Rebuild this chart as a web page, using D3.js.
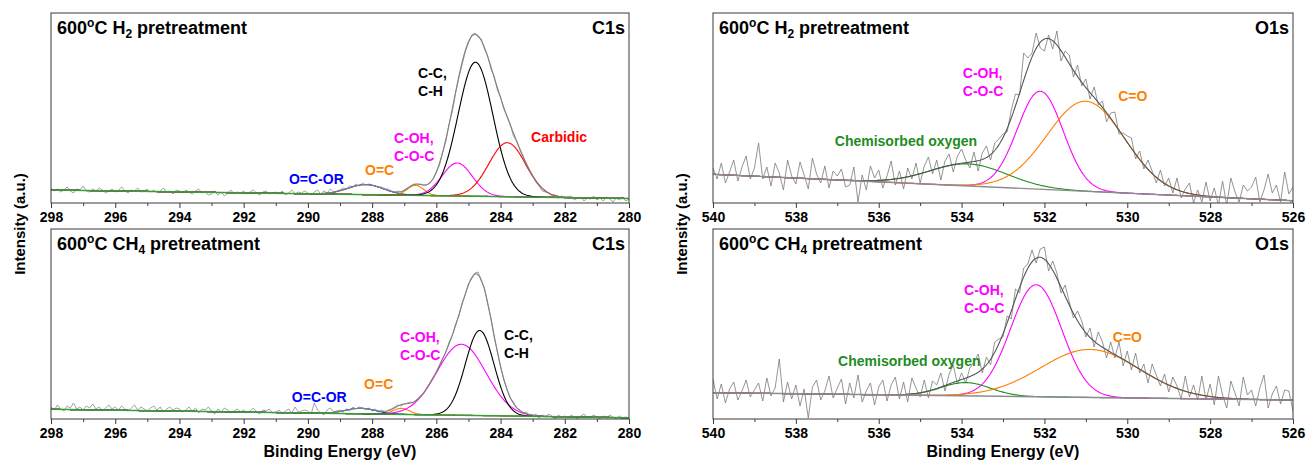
<!DOCTYPE html>
<html>
<head>
<meta charset="utf-8">
<script src="https://cdn.jsdelivr.net/npm/d3@7"></script>
<style>
  body { margin: 0; background: #fff; }
  svg text { font-family: "Liberation Sans", Arial, sans-serif; font-weight: bold; }
</style>
</head>
<body>
<div id="chart"></div>
<script>
// tick labels
const c1sTicks = [298, 296, 294, 292, 290, 288, 286, 284, 282, 280];
const o1sTicks = [540, 538, 536, 534, 532, 530, 528, 526];

// raw spectra, 0.1 eV steps from high to low binding energy
const c1sH2Raw = [
  15,12,14,11,13,16,12,10,14,13, 17,12,11,14,12,15,13,10,12,14,
  11,13,16,12,10,13,12,15,11,12, 14,11,13,10,12,15,11,12,9,13,
  12,10,13,11,9,12,14,10,11,8, 9,12,8,11,7,10,13,9,11,10,
  12,9,11,13,10,8,11,12,9,10, 11,9,12,8,10,13,9,11,10,12,
  10,8,11,13,9,12,10,14,11,12, 13,15,14,17,16,19,17,20,18,19,
  18,17,16,16,14,14,12,11,12,11, 13,15,16,19,18,19,18,18,20,24,
  31,38,51,62,79,92,110,125,138,151, 160,168,170,166,164,154,147,134,127,113,
  106,94,87,79,67,62,53,46,37,32, 27,21,17,12,11,10,7,8,5,7,
  4,6,7,3,5,6,2,5,4,7, 3,5,2,6,4,1,5,3,6,2,
  4
];
const c1sCH4Raw = [
  12,9,14,10,8,13,11,16,10,12, 9,13,11,15,10,12,8,11,14,10,
  12,9,13,10,8,11,14,9,12,10, 8,11,13,9,12,7,10,12,9,11,
  10,7,9,12,8,11,6,10,9,12, 8,5,10,7,11,9,6,8,10,7,
  9,6,8,11,7,5,9,8,10,6, 7,9,5,8,10,6,12,7,8,9,
  8,5,16,9,6,4,9,11,7,8, 9,7,10,8,12,10,12,11,9,11,
  8,10,7,9,6,9,10,12,14,13, 15,16,17,16,20,23,25,31,36,42,
  46,54,61,67,77,84,95,103,116,124, 135,140,146,147,138,131,115,101,82,68,
  53,40,30,21,17,11,9,6,7,4, 3,5,1,4,2,5,3,0,4,2,
  3,1,4,2,0,3,5,1,2,4, 2,0,3,1,4,2,0,3,1,2,
  1
];
const o1sH2Raw = [
  35,24,40,20,31,43,22,36,47,24, 35,60,24,36,17,40,30,13,43,27,
  19,41,28,14,45,29,20,37,15,32, 27,34,16,18,36,1,28,13,37,25,
  33,15,27,42,18,32,14,35,24,40, 20,37,46,29,43,23,42,49,31,47,
  54,43,35,51,32,50,57,43,60,64, 69,71,93,109,108,150,145,150,170,155,
  152,168,154,172,142,152,148,126,138,117, 124,104,116,98,102,81,90,91,69,70,
  67,65,44,52,34,43,32,20,33,17, 25,10,25,5,14,20,0,13,1,21,
  2,15,-2,22,-2,25,11,1,18,12, 16,26,1,13,29,10,18,1,31,9,
  16
];
const o1sCH4Raw = [
  40,20,35,16,30,37,19,28,39,22, 29,36,18,41,23,31,60,17,37,20,
  34,13,30,1,32,39,19,28,43,21, 31,40,15,36,21,44,17,28,36,14,
  32,39,18,34,42,20,37,17,41,31, 22,39,21,38,34,46,28,45,54,35,
  46,36,51,57,65,46,62,54,77,80, 82,103,100,130,126,151,155,169,156,170,
  172,148,158,146,126,134,117,101,108,98, 82,91,72,87,77,61,77,61,77,53,
  68,49,66,46,55,36,55,44,33,45, 27,42,33,20,43,22,34,19,43,19,
  35,14,43,24,11,38,26,13,42,24, 29,13,31,44,11,25,33,15,29,28,
  8
];

// fitted peaks: [centre eV, height, FWHM eV]
const c1sPeakNames = ["O=C-OR", "O=C", "C-OH, C-O-C", "C-C, C-H", "Carbidic"];
const c1sH2Peaks = [[288.2, 10, 1.3], [286.65, 10, 0.6], [285.35, 33, 1.1], [284.78, 134, 1.28], [283.79, 54, 1.35]];
const c1sCH4Peaks = [[288.35, 5.5, 1.1], [287.09, 6, 0.6], [285.22, 71, 1.8], [284.65, 85, 1.05]];
const o1sPeakNames = ["Chemisorbed oxygen", "C-OH, C-O-C", "C=O"];
const o1sH2Peaks = [[533.83, 22, 2.2], [532.1, 98, 1.3], [531.0, 90, 2.2]];
const o1sCH4Peaks = [[533.9, 13.3, 1.4], [532.2, 112, 1.45], [530.9, 48, 2.8]];

// linear background, intensity at the high and low energy ends
const c1sH2Background = [13, 4.5];
const c1sCH4Background = [9.7, 1.3];
const o1sH2Background = [28.7, 2.3];
const o1sCH4Background = [26.3, 19.0];

const w = 1306;
const h = 460;
const svg = d3.select("#chart").append("svg").attr("width", w).attr("height", h);

const c1sColors = ["#2030d8", "#ff7f00", "#ff00ff", "#000000", "#ff0000"];
const o1sColors = ["#1e8c1e", "#ff00ff", "#ff7f00"];

const panels = [
  {
    id: "a", x0: 51, x1: 629, y0: 13, y1: 203, range: [298, 280], ticks: c1sTicks,
    raw: c1sH2Raw, peaks: c1sH2Peaks, bg: c1sH2Background, colors: c1sColors,
    bgColor: "#35a035", envColor: "#808080", rawColor: "#8a8a8a", gas: "H", sub: "2", core: "C1s",
    labels: [
      { lines: ["O=C-OR"], e: 290.59, i: 19, color: "#0000ff" },
      { lines: ["O=C"], e: 288.22, i: 28, color: "#ff7f00" },
      { lines: ["C-OH,", "C-O-C"], e: 287.32, i: 60, color: "#ff00ff" },
      { lines: ["C-C,", "C-H"], e: 286.57, i: 125, color: "#000000" },
      { lines: ["Carbidic"], e: 283.05, i: 61, color: "#ff0000" }
    ]
  },
  {
    id: "b", x0: 51, x1: 629, y0: 229, y1: 419, range: [298, 280], ticks: c1sTicks,
    raw: c1sCH4Raw, peaks: c1sCH4Peaks, bg: c1sCH4Background, colors: c1sColors,
    bgColor: "#35a035", envColor: "#808080", rawColor: "#8a8a8a", gas: "CH", sub: "4", core: "C1s",
    labels: [
      { lines: ["O=C-OR"], e: 290.5, i: 17, color: "#0000ff" },
      { lines: ["O=C"], e: 288.25, i: 30, color: "#ff7f00" },
      { lines: ["C-OH,", "C-O-C"], e: 287.13, i: 77, color: "#ff00ff" },
      { lines: ["C-C,", "C-H"], e: 283.89, i: 79, color: "#000000" }
    ]
  },
  {
    id: "c", x0: 713, x1: 1293, y0: 13, y1: 203, range: [540, 526], ticks: o1sTicks,
    raw: o1sH2Raw, peaks: o1sH2Peaks, bg: o1sH2Background, colors: o1sColors,
    bgColor: "#8c8c8c", envColor: "#555555", rawColor: "#7a7a7a", gas: "H", sub: "2", core: "O1s",
    labels: [
      { lines: ["Chemisorbed oxygen"], e: 537.06, i: 57, color: "#1e8c1e" },
      { lines: ["C-OH,", "C-O-C"], e: 533.97, i: 125, color: "#ff00ff" },
      { lines: ["C=O"], e: 530.22, i: 102, color: "#ff7f00" }
    ]
  },
  {
    id: "d", x0: 713, x1: 1293, y0: 229, y1: 419, range: [540, 526], ticks: o1sTicks,
    raw: o1sCH4Raw, peaks: o1sCH4Peaks, bg: o1sCH4Background, colors: o1sColors,
    bgColor: "#8c8c8c", envColor: "#555555", rawColor: "#7a7a7a", gas: "CH", sub: "4", core: "O1s",
    labels: [
      { lines: ["Chemisorbed oxygen"], e: 536.98, i: 53, color: "#1e8c1e" },
      { lines: ["C-OH,", "C-O-C"], e: 533.94, i: 124, color: "#ff00ff" },
      { lines: ["C=O"], e: 530.35, i: 77, color: "#ff7f00" }
    ]
  }
];

function gauss(e, pk) {
  const s = pk[2] / 2.3548;
  return pk[1] * Math.exp(-((e - pk[0]) ** 2) / (2 * s * s));
}

function drawPanel(p) {
  const x = d3.scaleLinear().domain(p.range).range([p.x0, p.x1]);
  const y = d3.scaleLinear().domain([0, 190]).range([p.y1, p.y0]);
  const line = d3.line().x((d) => x(d[0])).y((d) => y(d[1]));

  svg.append("clipPath").attr("id", "clip-" + p.id)
    .append("rect").attr("x", p.x0).attr("y", p.y0)
    .attr("width", p.x1 - p.x0).attr("height", p.y1 - p.y0);
  const plot = svg.append("g").attr("clip-path", "url(#clip-" + p.id + ")");

  const span = p.range[0] - p.range[1];
  const bgAt = (e) => p.bg[0] + (p.bg[1] - p.bg[0]) * (p.range[0] - e) / span;
  const grid = d3.range(0, Math.round(span / 0.02) + 1).map((i) => p.range[0] - i * 0.02);

  // raw data
  const rawPts = p.raw.map((v, i) => [p.range[0] - i * 0.1, v]);
  plot.append("path").attr("d", line(rawPts))
    .attr("fill", "none").attr("stroke", p.rawColor).attr("stroke-width", 0.8);

  // components
  p.peaks.forEach((pk, k) => {
    const pts = grid.map((e) => [e, bgAt(e) + gauss(e, pk)]);
    plot.append("path").attr("d", line(pts))
      .attr("fill", "none").attr("stroke", p.colors[k]).attr("stroke-width", 1.1);
  });

  // envelope
  const env = grid.map((e) => [e, bgAt(e) + d3.sum(p.peaks, (pk) => gauss(e, pk))]);
  plot.append("path").attr("d", line(env))
    .attr("fill", "none").attr("stroke", p.envColor).attr("stroke-width", 1.1);

  // background
  plot.append("path").attr("d", line([[p.range[0], p.bg[0]], [p.range[1], p.bg[1]]]))
    .attr("fill", "none").attr("stroke", p.bgColor).attr("stroke-width", 1.4);

  // frame
  svg.append("rect").attr("x", p.x0).attr("y", p.y0)
    .attr("width", p.x1 - p.x0).attr("height", p.y1 - p.y0)
    .attr("fill", "none").attr("stroke", "#3a3a3a").attr("stroke-width", 1);

  // axis
  const minor = d3.range(p.range[1], p.range[0] + 1).filter((v) => !p.ticks.includes(v));
  const axMinor = svg.append("g").attr("transform", "translate(0," + p.y1 + ")")
    .call(d3.axisBottom(x).tickValues(minor).tickSize(3).tickFormat(""));
  axMinor.selectAll(".domain").remove();
  axMinor.selectAll("line").attr("stroke", "#3a3a3a");
  const ax = svg.append("g").attr("transform", "translate(0," + p.y1 + ")")
    .call(d3.axisBottom(x).tickValues(p.ticks).tickSize(5).tickPadding(4).tickFormat(d3.format("d")));
  ax.selectAll(".domain").remove();
  ax.selectAll("line").attr("stroke", "#3a3a3a");
  ax.selectAll("text").attr("font-size", 14).attr("fill", "#000")
    .style("font-family", "'Liberation Sans', Arial, sans-serif").style("font-weight", "bold");

  // title
  const t = svg.append("text").attr("x", p.x0 + 6).attr("y", p.y0 + 21).attr("font-size", 18);
  t.append("tspan").text("600");
  t.append("tspan").text("o").attr("font-size", 12).attr("dy", -7);
  t.append("tspan").text("C " + p.gas).attr("dy", 7);
  t.append("tspan").text(p.sub).attr("font-size", 12).attr("dy", 4);
  t.append("tspan").text(" pretreatment").attr("dy", -4);
  svg.append("text").attr("x", p.x1 - 4).attr("y", p.y0 + 21)
    .attr("text-anchor", "end").attr("font-size", 18).text(p.core);

  // peak labels
  p.labels.forEach((lb) => {
    const tx = svg.append("text").attr("x", x(lb.e)).attr("y", y(lb.i))
      .attr("font-size", 14).attr("fill", lb.color);
    lb.lines.forEach((s, j) => {
      tx.append("tspan").attr("x", x(lb.e)).attr("dy", j === 0 ? 0 : 18).text(s);
    });
  });
}

panels.forEach(drawPanel);

// axis titles
[[25, 224], [687, 224]].forEach((pos) => {
  svg.append("text").attr("transform", "translate(" + pos[0] + "," + pos[1] + ") rotate(-90)")
    .attr("text-anchor", "middle").attr("font-size", 15).text("Intensity (a.u.)");
});
[340, 1003].forEach((cx) => {
  svg.append("text").attr("x", cx).attr("y", 457)
    .attr("text-anchor", "middle").attr("font-size", 16).text("Binding Energy (eV)");
});
</script>
</body>
</html>
